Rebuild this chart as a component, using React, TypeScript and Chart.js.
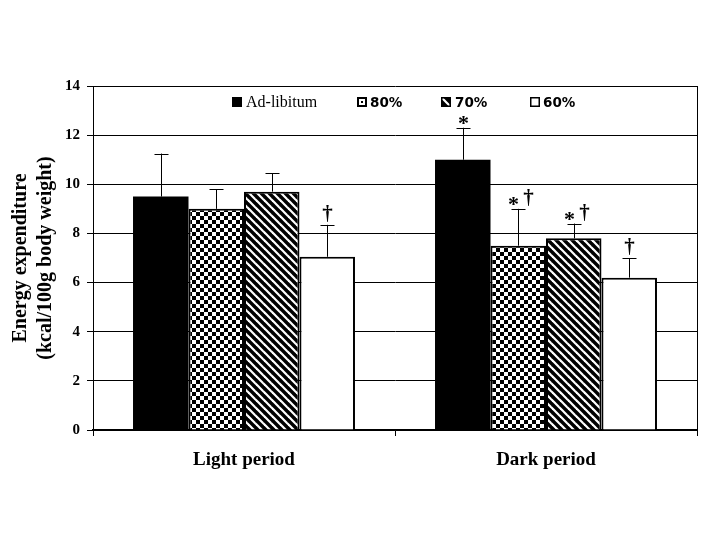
import React, { useEffect, useRef } from "react";
import { Chart, registerables } from "chart.js";

Chart.register(...registerables);

const categories = ["Light period", "Dark period"];
const seriesNames = ["Ad-libitum", "80%", "70%", "60%"];
const adLibValues = [9.5, 11.0];
const pct80Values = [9.0, 7.5];
const pct70Values = [9.7, 7.8];
const pct60Values = [7.05, 6.2];
const adLibErrors = [1.75, 1.3];
const pct80Errors = [0.8, 1.5];
const pct70Errors = [0.75, 0.6];
const pct60Errors = [1.3, 0.8];
const adLibNotes = ["", "*"];
const pct80Notes = ["", "*†"];
const pct70Notes = ["", "*†"];
const pct60Notes = ["†", "†"];
const yMin = 0;
const yMax = 14;
const yStep = 2;
const yTitle = ["Energy expenditure", "(kcal/100g body weight)"];

const SERIF = "'Liberation Serif', 'Times New Roman', serif";
const SANS = "'DejaVu Sans', Verdana, sans-serif";

function makeChecker(): CanvasPattern | string {
  const c = document.createElement("canvas");
  c.width = 8;
  c.height = 8;
  const g = c.getContext("2d");
  if (!g) return "#888";
  g.fillStyle = "#fff";
  g.fillRect(0, 0, 8, 8);
  g.fillStyle = "#000";
  g.fillRect(0, 0, 4, 4);
  g.fillRect(4, 4, 4, 4);
  return g.createPattern(c, "repeat") as CanvasPattern;
}

function makeHatch(): CanvasPattern | string {
  const c = document.createElement("canvas");
  c.width = 8;
  c.height = 8;
  const g = c.getContext("2d");
  if (!g) return "#444";
  g.fillStyle = "#000";
  g.fillRect(0, 0, 8, 8);
  g.strokeStyle = "#fff";
  g.lineWidth = 2.2;
  for (const x0 of [-8, 0, 8]) {
    g.beginPath();
    g.moveTo(x0 - 1, -1);
    g.lineTo(x0 + 9, 9);
    g.stroke();
  }
  return g.createPattern(c, "repeat") as CanvasPattern;
}

const errorsBySeries = [adLibErrors, pct80Errors, pct70Errors, pct60Errors];
const notesBySeries = [adLibNotes, pct80Notes, pct70Notes, pct60Notes];

const errorBarPlugin = {
  id: "errorBars",
  afterDatasetsDraw(chart: any) {
    const ctx = chart.ctx;
    const yScale = chart.scales.y;
    ctx.save();
    chart.data.datasets.forEach((ds: any, di: number) => {
      const meta = chart.getDatasetMeta(di);
      const errs = errorsBySeries[di];
      const notes = notesBySeries[di];
      meta.data.forEach((bar: any, i: number) => {
        const v = ds.data[i];
        const top = yScale.getPixelForValue(v);
        const cap = yScale.getPixelForValue(v + errs[i]);
        const x = Math.round(bar.x) + 0.5;
        ctx.strokeStyle = "#000";
        ctx.lineWidth = 1;
        ctx.beginPath();
        ctx.moveTo(x, top);
        ctx.lineTo(x, cap);
        ctx.moveTo(x - 7, Math.round(cap) + 0.5);
        ctx.lineTo(x + 7, Math.round(cap) + 0.5);
        ctx.stroke();
        const note = notes[i];
        if (note) {
          ctx.fillStyle = "#000";
          ctx.textAlign = "center";
          ctx.textBaseline = "alphabetic";
          const hasStar = note.includes("*");
          const hasDagger = note.includes("†");
          if (hasStar) {
            ctx.font = `bold 22px ${SERIF}`;
            ctx.fillText("*", hasDagger ? x - 5 : x, cap + 2);
          }
          if (hasDagger) {
            ctx.font = `bold 21px ${SERIF}`;
            ctx.fillText("†", hasStar ? x + 10 : x, cap - 5);
          }
        }
      });
    });
    ctx.restore();
  },
};

const framePlugin = {
  id: "frameAndLegend",
  afterDraw(chart: any) {
    const ctx = chart.ctx;
    const a = chart.chartArea;
    ctx.save();
    ctx.strokeStyle = "#000";
    ctx.lineWidth = 1;
    ctx.beginPath();
    ctx.moveTo(Math.round(a.right) + 0.5, a.top);
    ctx.lineTo(Math.round(a.right) + 0.5, a.bottom + 6);
    ctx.stroke();

    // legend
    const cy = a.top + 16;
    const items = [
      { off: 139, textOff: 153 },
      { off: 264, textOff: 277 },
      { off: 348, textOff: 362 },
      { off: 437, textOff: 450 },
    ];
    items.forEach((it, k) => {
      const bx = a.left + it.off;
      const by = Math.round(cy - 5);
      const s = 10;
      if (k === 0) {
        ctx.fillStyle = "#000";
        ctx.fillRect(bx, by, s, s);
      } else if (k === 1) {
        ctx.fillStyle = "#000";
        ctx.fillRect(bx, by, s, s);
        ctx.fillStyle = "#fff";
        ctx.fillRect(bx + 2, by + 2, s - 4, s - 4);
        ctx.fillStyle = "#000";
        ctx.fillRect(bx + 4, by + 4, s - 8, s - 8);
      } else if (k === 2) {
        ctx.fillStyle = "#000";
        ctx.fillRect(bx, by, s, s);
        ctx.save();
        ctx.beginPath();
        ctx.rect(bx + 1.5, by + 1.5, s - 3, s - 3);
        ctx.clip();
        ctx.strokeStyle = "#fff";
        ctx.lineWidth = 2.2;
        ctx.beginPath();
        ctx.moveTo(bx, by);
        ctx.lineTo(bx + s, by + s);
        ctx.stroke();
        ctx.restore();
      } else {
        ctx.fillStyle = "#fff";
        ctx.fillRect(bx, by, s, s);
        ctx.strokeStyle = "#000";
        ctx.lineWidth = 1.5;
        ctx.strokeRect(bx + 0.75, by + 0.75, s - 1.5, s - 1.5);
      }
      ctx.fillStyle = "#000";
      ctx.textAlign = "left";
      ctx.textBaseline = "middle";
      ctx.font = k === 0 ? `16px ${SERIF}` : `bold 13.5px ${SANS}`;
      ctx.fillText(seriesNames[k], a.left + it.textOff, cy + 1);
    });
    ctx.restore();
  },
};

export default function App() {
  const ref = useRef<HTMLCanvasElement | null>(null);
  useEffect(() => {
    document.body.style.margin = "0";
    const canvas = ref.current;
    if (!canvas) return;
    const checker = makeChecker();
    const hatch = makeHatch();
    const fills: any[] = ["#000", checker, hatch, "#fff"];
    const values = [adLibValues, pct80Values, pct70Values, pct60Values];
    const chart = new Chart(canvas, {
      type: "bar",
      data: {
        labels: categories,
        datasets: seriesNames.map((name, i) => ({
          label: name,
          data: values[i],
          backgroundColor: fills[i],
          borderColor: "#000",
          borderWidth: i === 0 ? 0 : 2,
          barPercentage: 1,
          categoryPercentage: 0.735,
        })),
      },
      options: {
        responsive: false,
        animation: false,
        devicePixelRatio: 1,
        layout: { padding: { top: 86, right: 23, left: 0, bottom: 0 } },
        plugins: {
          legend: { display: false },
          tooltip: { enabled: false },
          title: { display: false },
        },
        scales: {
          x: {
            afterFit: (s: any) => {
              s.height = 110;
            },
            grid: {
              display: true,
              drawOnChartArea: false,
              drawTicks: true,
              tickLength: 6,
              color: "#000",
              offset: true,
            },
            border: { display: true, color: "#000", width: 1.5 },
            ticks: {
              color: "#000",
              padding: 13,
              font: { family: SERIF, size: 19, weight: "bold" },
            },
          },
          y: {
            min: yMin,
            max: yMax,
            afterFit: (s: any) => {
              s.width = 93;
            },
            ticks: {
              stepSize: yStep,
              color: "#000",
              padding: 7,
              font: { family: SERIF, size: 15, weight: "bold" },
            },
            grid: {
              color: "#000",
              lineWidth: 1,
              tickLength: 6,
              drawTicks: true,
            },
            border: { display: true, color: "#000", width: 1 },
            title: {
              display: true,
              text: yTitle,
              color: "#000",
              padding: { top: 8.5, bottom: 0 },
              font: { family: SERIF, size: 20, weight: "bold", lineHeight: 1.25 },
            },
          },
        },
      },
      plugins: [errorBarPlugin, framePlugin],
    });
    return () => chart.destroy();
  }, []);
  return (
    <div style={{ width: 720, height: 540, background: "#fff" }}>
      <canvas ref={ref} width={720} height={540} style={{ display: "block" }} />
    </div>
  );
}
